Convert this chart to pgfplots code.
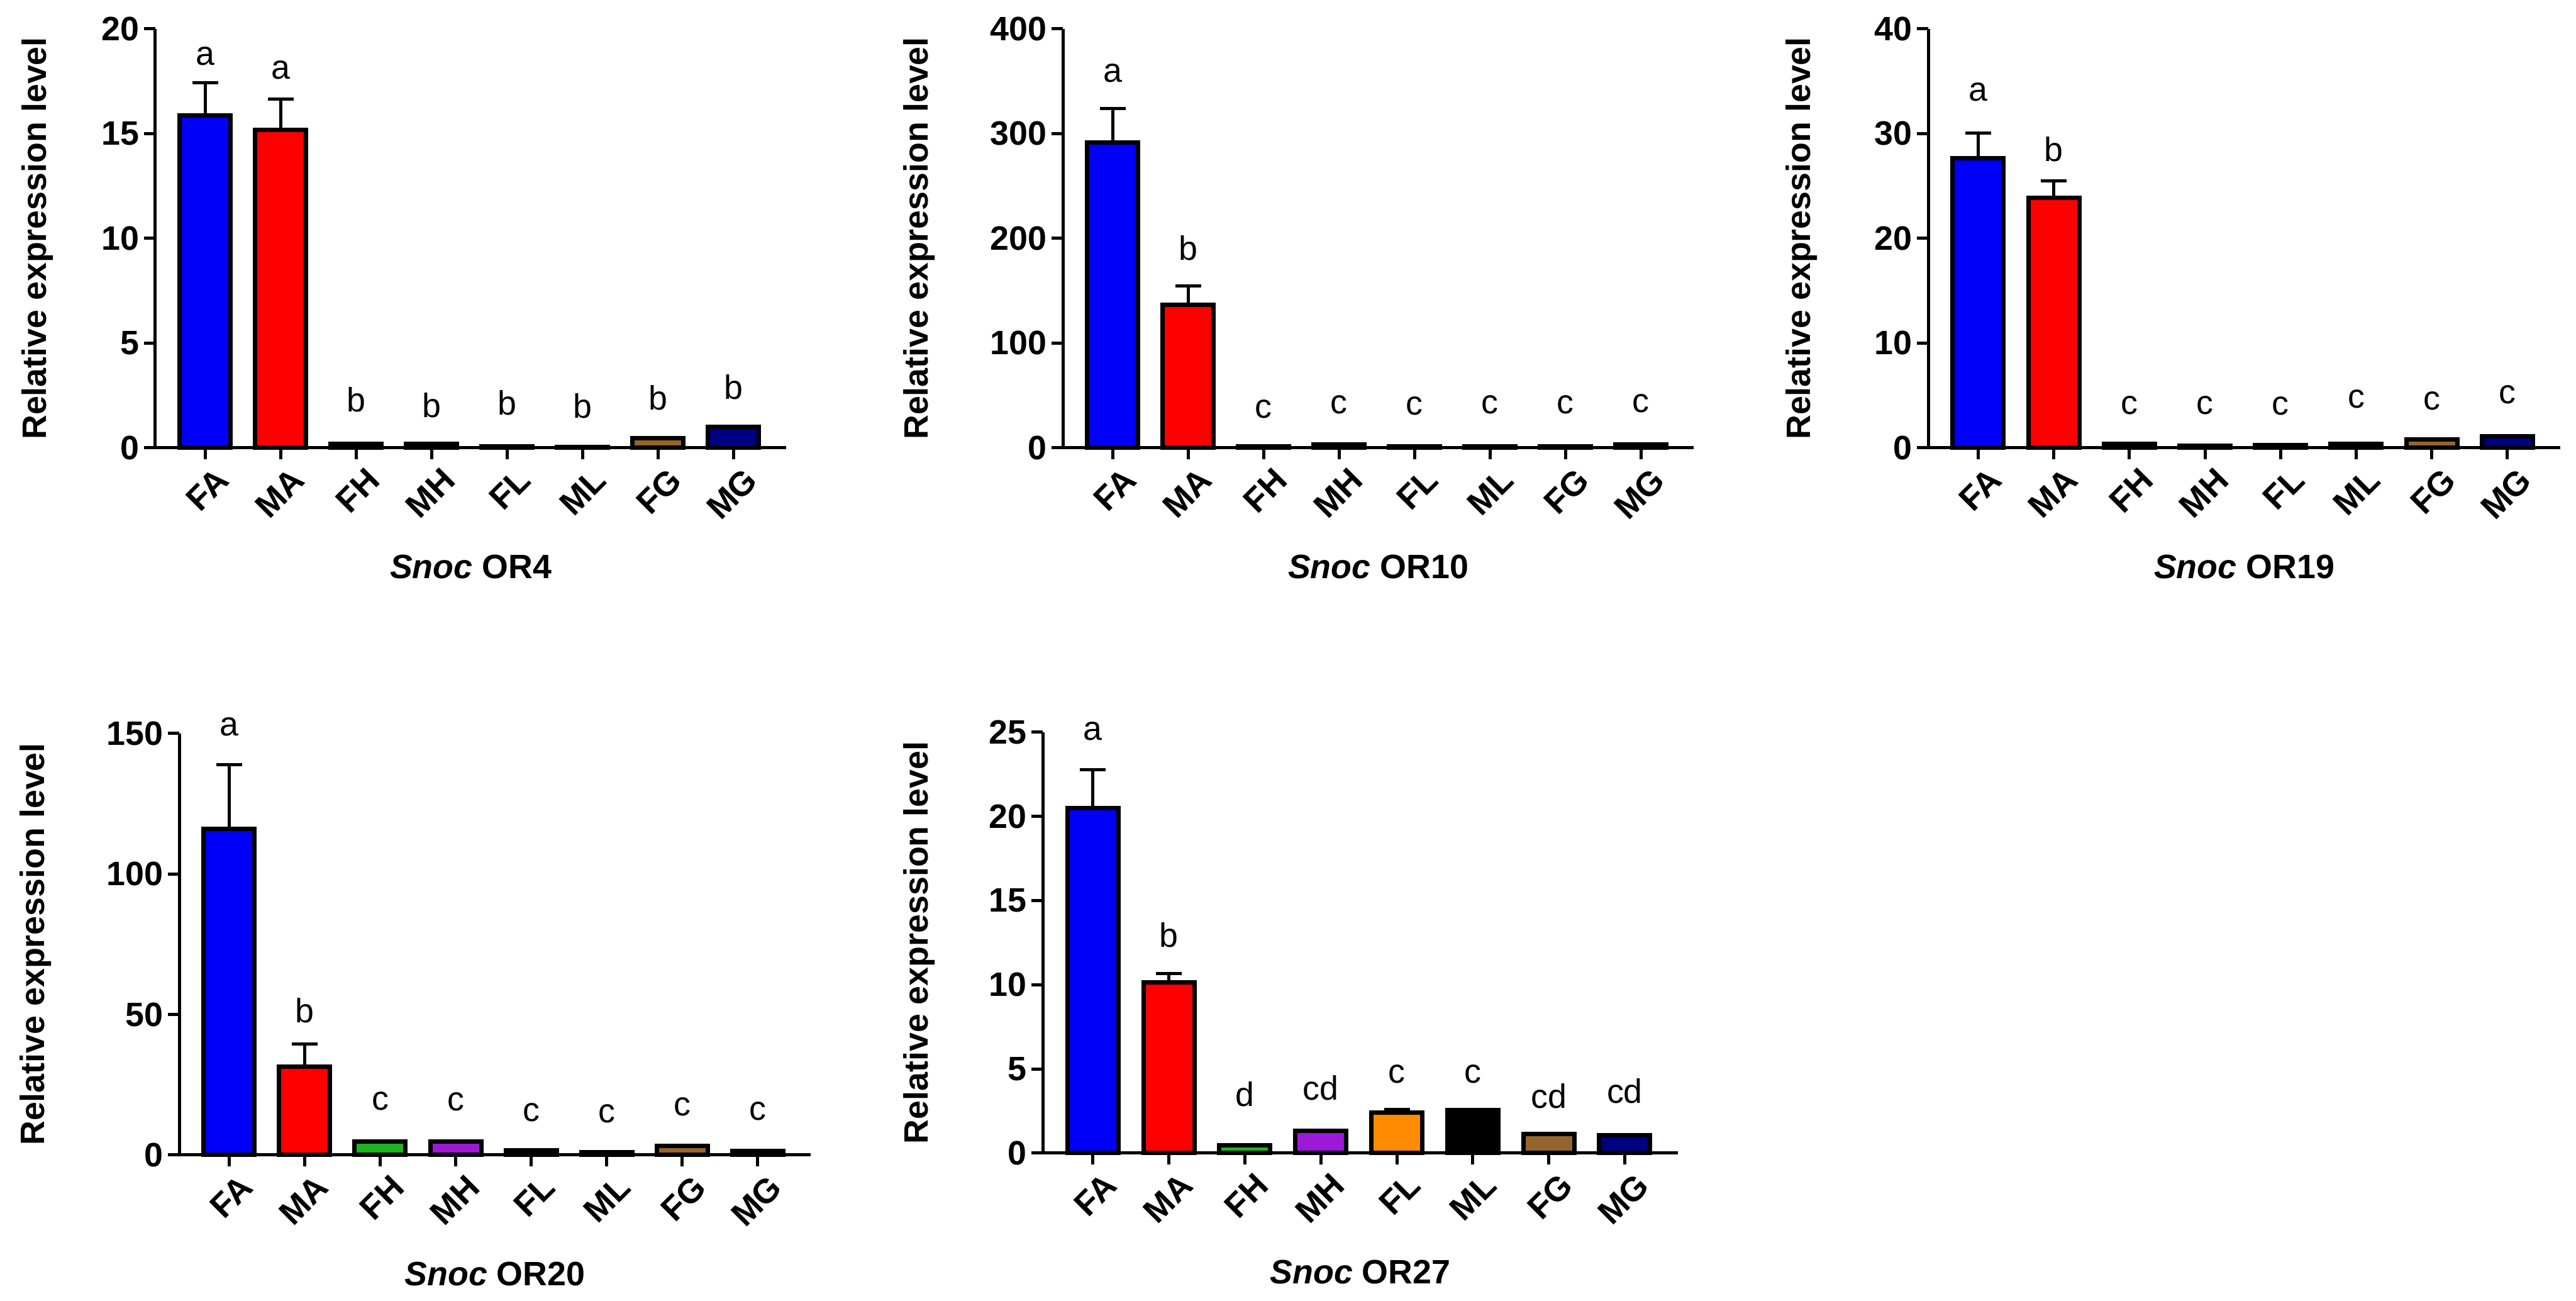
\documentclass[border=0pt]{standalone}
\usepackage{fontspec}
\setmainfont{Liberation Sans}
\usepackage{pgfplots}
\pgfplotsset{compat=1.18}

\definecolor{cFA}{RGB}{0,0,250}
\definecolor{cMA}{RGB}{255,0,0}
\definecolor{cFH}{RGB}{30,180,30}
\definecolor{cMH}{RGB}{155,25,215}
\definecolor{cFL}{RGB}{255,140,0}
\definecolor{cML}{RGB}{0,0,0}
\definecolor{cFG}{RGB}{150,100,45}
\definecolor{cMG}{RGB}{0,0,130}

\newcommand{\fs}{\fontsize{15.3}{18}\selectfont}

% bar with error bar: colour, x, value, error, letter height, letter
\newcommand{\bb}[6]{%
  \addplot[fill=#1, draw=black, line width=0.07cm,
    error bars/y dir=plus, error bars/y explicit,
    error bars/error bar style={line width=0.05cm, black},
    error bars/error mark options={rotate=90, line width=0.05cm, mark size=0.205cm, black}]
    coordinates {(#2,#3) +- (0,#4)};
  \node[font=\fs, anchor=center, inner sep=0pt] at (axis cs:#2,#5) {#6};
}
% bar without error bar: colour, x, value, letter height, letter
\newcommand{\bn}[5]{%
  \addplot[fill=#1, draw=black, line width=0.07cm] coordinates {(#2,#3)};
  \node[font=\fs, anchor=center, inner sep=0pt] at (axis cs:#2,#4) {#5};
}

\pgfplotsset{
  orpanel/.style={
    scale only axis,
    anchor=south west,
    axis lines=left,
    axis line style={-, line width=0.05cm},
    xmin=-0.66, xmax=7.7, ymin=0,
    xtick={0,...,7},
    xticklabels={FA,MA,FH,MH,FL,ML,FG,MG},
    tick align=outside,
    major tick length=0.18cm,
    tick style={black, line width=0.05cm},
    minor tick num=0,
    /pgf/number format/assume math mode=true,
    x tick label style={rotate=45, anchor=north east, font=\bfseries\fs, xshift=0.15cm, yshift=-0.06cm},
    y tick label style={font=\bfseries\fs, xshift=0.05cm},
    ylabel={Relative expression level},
    ylabel style={font=\bfseries\fs, at={(axis description cs:0,0.5)}, anchor=center},
    xlabel style={font=\bfseries\fs, at={(axis description cs:0.5,0)}, anchor=center, yshift=-1.89cm},
    ybar, bar width=0.81cm, bar shift=0pt,
    clip=false,
  }
}

\begin{document}
\begin{tikzpicture}
\path[use as bounding box] (0,0) rectangle (40.96,20.68);

% Snoc OR4
\begin{axis}[orpanel, at={(2.47cm,13.56cm)}, width=10.03cm, height=6.66cm,
  ymax=20, ytick={0,5,10,15,20}, xlabel={\textit{Snoc} OR4},
  ylabel style={yshift=1.87cm}]
\bb{cFA}{0}{15.87}{1.57}{18.7}{a}
\bb{cMA}{1}{15.18}{1.47}{18.04}{a}
\bn{cFH}{2}{0.2}{2.29}{b}
\bn{cMH}{3}{0.2}{2.04}{b}
\bn{cFL}{4}{0.08}{2.14}{b}
\bn{cML}{5}{0.04}{1.99}{b}
\bn{cFG}{6}{0.45}{2.4}{b}
\bn{cMG}{7}{1.0}{2.9}{b}
\end{axis}

% Snoc OR10
\begin{axis}[orpanel, at={(16.90cm,13.56cm)}, width=10.03cm, height=6.66cm,
  ymax=400, ytick={0,100,200,300,400}, xlabel={\textit{Snoc} OR10},
  ylabel style={yshift=2.28cm}]
\bb{cFA}{0}{291.7}{32.5}{358}{a}
\bb{cMA}{1}{136.5}{18}{190.6}{b}
\bn{cFH}{2}{1.5}{37}{c}
\bn{cMH}{3}{3}{41.5}{c}
\bn{cFL}{4}{1.5}{40}{c}
\bn{cML}{5}{1.5}{41.5}{c}
\bn{cFG}{6}{1.5}{41}{c}
\bn{cMG}{7}{3}{42.6}{c}
\end{axis}

% Snoc OR19
\begin{axis}[orpanel, at={(30.66cm,13.56cm)}, width=10.05cm, height=6.66cm,
  ymax=40, ytick={0,10,20,30,40}, xlabel={\textit{Snoc} OR19},
  ylabel style={yshift=2.01cm}]
\bb{cFA}{0}{27.67}{2.4}{34.0}{a}
\bb{cMA}{1}{23.9}{1.6}{28.5}{b}
\bn{cFH}{2}{0.4}{4.04}{c}
\bn{cMH}{3}{0.2}{4.04}{c}
\bn{cFL}{4}{0.25}{4.0}{c}
\bn{cML}{5}{0.4}{4.67}{c}
\bn{cFG}{6}{0.8}{4.46}{c}
\bn{cMG}{7}{1.1}{5.08}{c}
\end{axis}

% Snoc OR20
\begin{axis}[orpanel, at={(2.85cm,2.32cm)}, width=10.04cm, height=6.70cm,
  ymax=150, ytick={0,50,100,150}, xlabel={\textit{Snoc} OR20},
  ylabel style={yshift=2.28cm}]
\bb{cFA}{0}{116.1}{22.8}{152.4}{a}
\bb{cMA}{1}{31.4}{8}{51.4}{b}
\bn{cFH}{2}{4.7}{19.2}{c}
\bn{cMH}{3}{4.7}{18.9}{c}
\bn{cFL}{4}{1.7}{15.2}{c}
\bn{cML}{5}{1.0}{14.8}{c}
\bn{cFG}{6}{3.3}{17.2}{c}
\bn{cMG}{7}{1.5}{15.6}{c}
\end{axis}

% Snoc OR27
\begin{axis}[orpanel, at={(16.58cm,2.35cm)}, width=10.10cm, height=6.69cm,
  ymax=25, ytick={0,5,10,15,20,25}, xlabel={\textit{Snoc} OR27},
  ylabel style={yshift=1.96cm}]
\bb{cFA}{0}{20.5}{2.26}{25.07}{a}
\bb{cMA}{1}{10.14}{0.53}{12.97}{b}
\bn{cFH}{2}{0.46}{3.5}{d}
\bn{cMH}{3}{1.34}{3.87}{cd}
\bb{cFL}{4}{2.42}{0.18}{4.68}{c}
\bn{cML}{5}{2.56}{4.68}{c}
\bn{cFG}{6}{1.15}{3.4}{cd}
\bn{cMG}{7}{1.05}{3.7}{cd}
\end{axis}
\end{tikzpicture}
\end{document}
